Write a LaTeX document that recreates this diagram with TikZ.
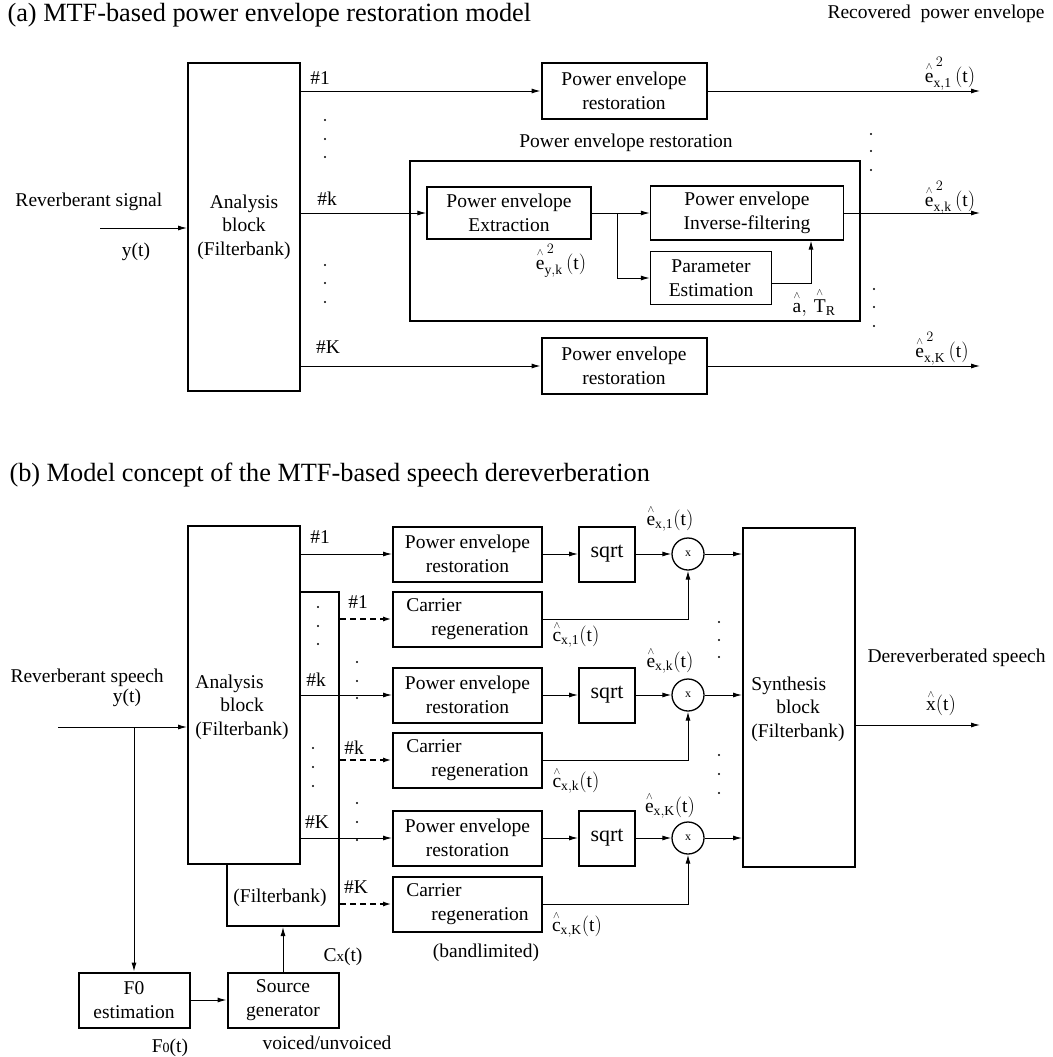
\documentclass[tikz,border=0pt]{standalone}
\usepackage{amsmath}
\usepackage{fontspec}
\setmainfont{Liberation Serif}
\usetikzlibrary{arrows.meta}

\newcommand{\ha}[1]{\overset{\scriptscriptstyle\wedge}{\mathrm{#1}}}
\newcommand{\hatsig}[2]{$\ha{#1}_{\mathrm{#2}}(\mathrm{t})$}
\newcommand{\hatpow}[2]{$\ha{#1}_{\mathrm{#2}}^{\,2}\,(\mathrm{t})$}

\begin{document}
\begin{tikzpicture}[x=1pt, y=-1pt, >={Latex[length=9pt,width=5pt]}, line width=1pt,
        every node/.style={font=\fontsize{19.5}{23.5}\selectfont, inner sep=1pt},
        box/.style 2 args={draw, line width=2pt, fill=white, align=center, inner sep=0pt,
                           minimum width=#1, minimum height=#2},
        subbox/.style 2 args={draw, line width=1.2pt, fill=white, align=center, inner sep=0pt,
                              minimum width=#1, minimum height=#2},
        mult/.style={circle, draw, line width=1.3pt, fill=white, inner sep=0pt,
                     minimum size=32pt, font=\fontsize{12}{12}\selectfont},
        dline/.style={->, line width=2pt, dash pattern=on 6pt off 4pt},
        title/.style={anchor=west, font=\fontsize{26.3}{30}\selectfont}]

    \useasboundingbox (0,0) rectangle (1052,1057);

    % ================= (a) =================
    \node[title] (titA) at (6,15) {(a) MTF-based power envelope restoration model};
    \node[anchor=west] (recov) at (826,14) {Recovered\ \ power envelope};

    % --- blok analizy i wejście ---
    \node[box={112pt}{328pt}] (anaA) at (244,227) {Analysis\\block\\(Filterbank)};
    \node[anchor=west] (revA) at (14,202) {Reverberant signal};
    \node (yA) at (136,252) {y(t)};
    \coordinate (inA) at (100,228);
    \draw[->] (inA) -- (inA -| anaA.west);

    % --- bloki odtwarzania ---
    \node[box={165pt}{56pt}] (pe1A) at (624,91) {Power envelope\\restoration};
    \node[box={165pt}{56pt}] (peKA) at (624,366) {Power envelope\\restoration};
    \node[box={450pt}{160pt}] (outA) at (635,241) {};
    \node (outAlbl) at (626,143) {Power envelope restoration};
    \node[subbox={164pt}{52pt}] (extr) at (509,213) {Power envelope\\Extraction};
    \node[subbox={193pt}{54pt}] (inv) at (747,213) {Power envelope\\Inverse-filtering};
    \node[subbox={121pt}{53pt}] (param) at (711,278) {Parameter\\Estimation};

    % --- kanały ---
    \draw[->] (anaA.east |- pe1A) -- (pe1A);
    \draw[->] (anaA.east |- extr) -- (extr);
    \draw[->] (anaA.east |- peKA) -- (peKA);
    \node (n1A) at (320,78) {\#1};
    \node (nkA) at (327,199) {\#k};
    \node (nKA) at (328,347) {\#K};

    % --- wnętrze bloku ---
    \coordinate (br) at (617,213);
    \draw (extr) -- (br);
    \draw[->] (br) -- (inv);
    \draw[->] (br) |- (param);
    \draw[->] ([yshift=-5pt]param.east) -| ([xshift=64pt]inv.south);
    \node (eyk) at (561,261) {$\ha{e}_{\mathrm{y,k}}^{\,2}\,(\mathrm{t})$};
    \node (aTR) at (814,302) {$\ha{a},\,\ha{T}_{\mathrm{R}}$};

    % --- wyjścia ---
    \coordinate (o1A) at (980,91);
    \coordinate (okA) at (980,213);
    \coordinate (oKA) at (980,366);
    \draw[->] (pe1A) -- (o1A);
    \draw[->] (inv) -- (okA);
    \draw[->] (peKA) -- (oKA);
    \node (e1A) at (950,74) {\hatpow{e}{x,1}};
    \node (ekA) at (950,198) {\hatpow{e}{x,k}};
    \node (eKA) at (942,349) {\hatpow{e}{x,K}};

    \foreach \x/\y in {325/120, 325/139, 325/157, 325/265, 325/283, 325/302,
                       871/134, 871/151, 871/170, 874/289, 874/307, 874/326}
        \fill (\x,\y) circle (1.2);

    % ================= (b) =================
    \node[title] (titB) at (8,475) {(b) Model concept of the MTF-based speech dereverberation};

    % --- bloki analizy ---
    \node[box={112pt}{334pt}] (fbank) at (283,759) {};
    \node (fbtxt) at (280,898) {(Filterbank)};
    \node[box={112pt}{338pt}] (ana) at (244,695) {};
    \node[align=left] (anatxt) at (242,707) {Analysis\\\hspace*{25pt}block\\(Filterbank)};

    % --- wejście i źródło ---
    \node[anchor=west] (revB) at (9,678) {Reverberant speech};
    \node (yB) at (127,698) {y(t)};
    \node[box={111pt}{55pt}] (f0) at (134,1000) {F0\\estimation};
    \node[box={111pt}{55pt}] (src) at (283,1000) {Source\\generator};
    \coordinate (inB) at (58,727);
    \draw[->] (inB) -- (inB -| ana.west);
    \draw[->] (inB -| f0.north) -- (f0);
    \draw[->] (f0) -- (src);
    \draw[->] (src) -- (fbank);
    \node (cx) at (343,957) {C{\fontsize{15}{15}\selectfont x}(t)};
    \node (f0t) at (170,1048) {F{\fontsize{14}{14}\selectfont 0}(t)};
    \node (voiced) at (327,1043) {voiced/unvoiced};

    % --- kanały ---
    \node[box={149pt}{55pt}] (pe1) at (467.5,554) {Power envelope\\restoration};
    \node[box={149pt}{55pt}, align=left] (cr1) at (467.5,619) {Carrier\\\hspace*{25pt}regeneration};
    \node[box={149pt}{55pt}] (pek) at (467.5,695) {Power envelope\\restoration};
    \node[box={149pt}{55pt}, align=left] (crk) at (467.5,760) {Carrier\\\hspace*{25pt}regeneration};
    \node[box={149pt}{55pt}] (peK) at (467.5,838) {Power envelope\\restoration};
    \node[box={149pt}{55pt}, align=left] (crK) at (467.5,904) {Carrier\\\hspace*{25pt}regeneration};
    \node (band) at (486,953) {(bandlimited)};

    \draw[->] (ana.east |- pe1) -- (pe1);
    \draw[->] (ana.east |- pek) -- (pek);
    \draw[->] (ana.east |- peK) -- (peK);
    \draw[dline] (fbank.east |- cr1) -- (cr1);
    \draw[dline] (fbank.east |- crk) -- (crk);
    \draw[dline] (fbank.east |- crK) -- (crK);
    \node (n1) at (320,537) {\#1};
    \node (nk) at (316,680) {\#k};
    \node (nK) at (317,822) {\#K};
    \node (d1) at (358,602) {\#1};
    \node (dk) at (354,748) {\#k};
    \node (dK) at (356,887) {\#K};

    % --- pierwiastek i mnożenie ---
    \node[box={56pt}{55pt}, font=\fontsize{22}{26}\selectfont] (sq1) at (607,554) {sqrt};
    \node[box={56pt}{55pt}, font=\fontsize{22}{26}\selectfont] (sqk) at (607,695) {sqrt};
    \node[box={56pt}{55pt}, font=\fontsize{22}{26}\selectfont] (sqK) at (607,838) {sqrt};
    \node[mult] (m1) at (688,554) {x};
    \node[mult] (mk) at (688,695) {x};
    \node[mult] (mK) at (688,838) {x};
    \node[box={112pt}{339pt}] (syn) at (799,697) {};
    \node[align=left] (syntxt) at (798,709) {Synthesis\\\hspace*{25pt}block\\(Filterbank)};

    \draw[->] (pe1) -- (sq1);
    \draw[->] (pek) -- (sqk);
    \draw[->] (peK) -- (sqK);
    \draw[->] (sq1) -- (m1);
    \draw[->] (sqk) -- (mk);
    \draw[->] (sqK) -- (mK);
    \draw[->] (cr1) -| (m1);
    \draw[->] (crk) -| (mk);
    \draw[->] (crK) -| (mK);
    \draw[->] (m1) -- (m1 -| syn.west);
    \draw[->] (mk) -- (mk -| syn.west);
    \draw[->] (mK) -- (mK -| syn.west);
    \node (e1) at (670,518) {\hatsig{e}{x,1}};
    \node (ek) at (670,660) {\hatsig{e}{x,k}};
    \node (eK) at (670,805) {\hatsig{e}{x,K}};
    \node (c1) at (576,634) {\hatsig{c}{x,1}};
    \node (ck) at (576,780) {\hatsig{c}{x,k}};
    \node (cK) at (577,924) {\hatsig{c}{x,K}};

    % --- wyjście ---
    \coordinate (xout) at (980,725);
    \draw[->] ([yshift=-28pt]syn.east) -- (xout);
    \node[anchor=west] (derev) at (866,658) {Dereverberated speech};
    \node (xhat) at (941,703) {$\ha{x}(\mathrm{t})$};

    \foreach \x/\y in {318/607, 318/626, 318/644, 357/662, 357/681, 357/698,
                       313/748, 313/767, 313/786, 357/803, 357/822, 357/840,
                       719/622, 719/640, 719/657, 719/755, 719/774, 719/793}
        \fill (\x,\y) circle (1.2);

\end{tikzpicture}
\end{document}
